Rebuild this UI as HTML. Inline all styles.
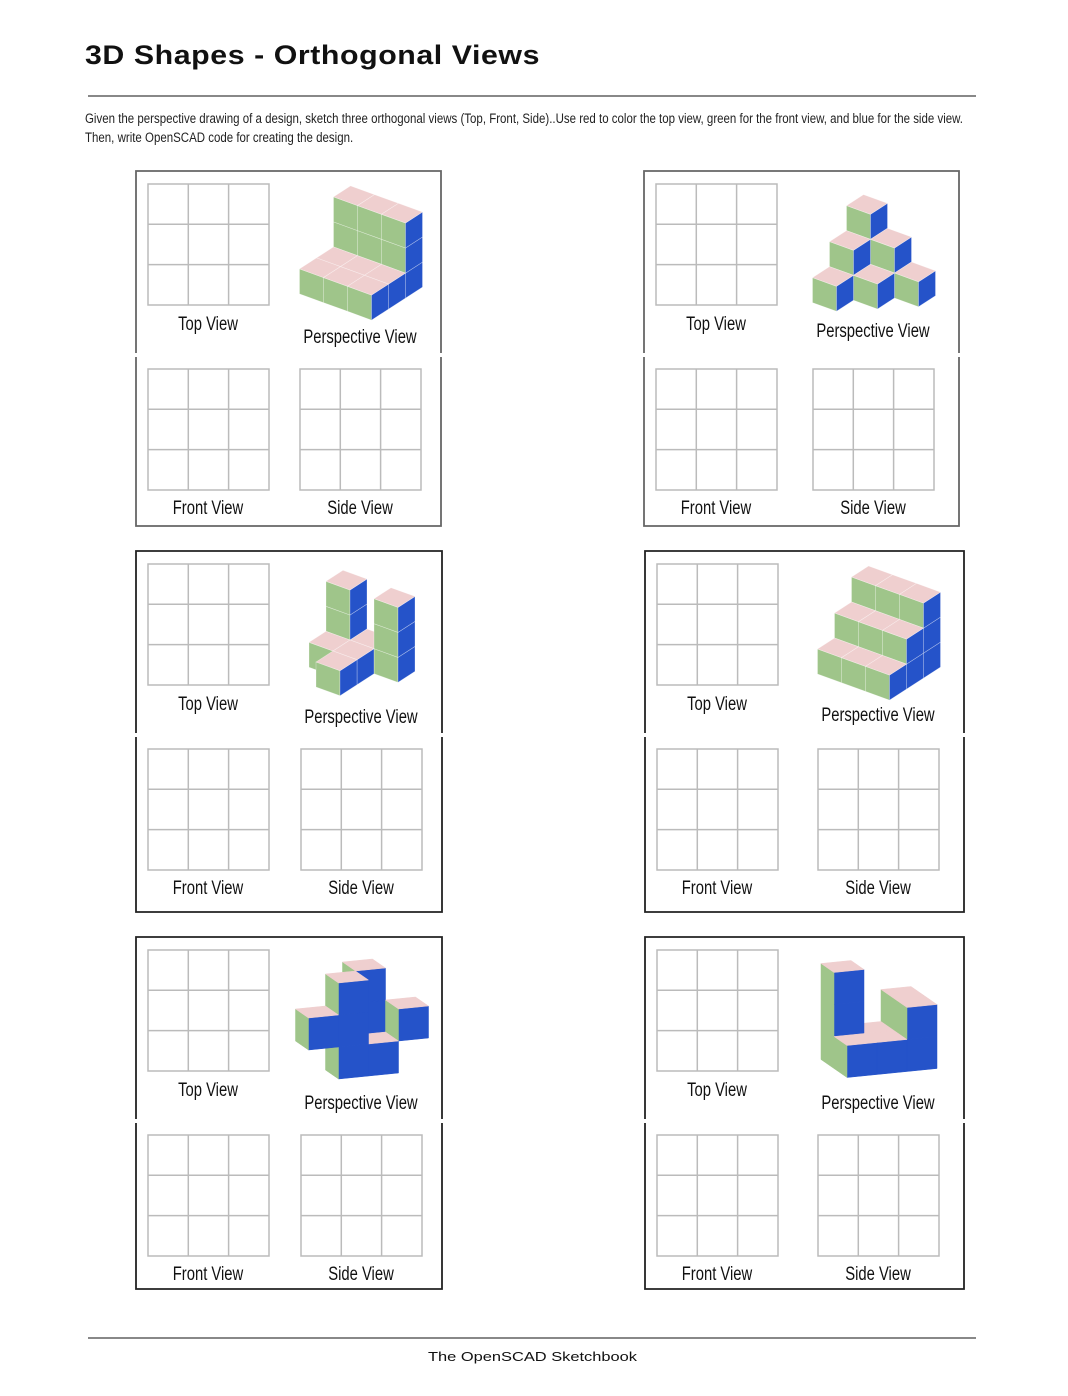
<!DOCTYPE html>
<html><head><meta charset="utf-8">
<style>
body{margin:0;background:#fff;width:1068px;height:1396px;position:relative;overflow:hidden;font-family:"Liberation Sans Narrow","Liberation Sans",sans-serif}
.title{position:absolute;left:85px;top:40px;font-family:"Liberation Sans",sans-serif;font-weight:bold;font-size:27px;letter-spacing:0.5px;color:#111;white-space:nowrap;transform-origin:left top}
.hr{position:absolute;height:2px;background:#888}
.desc{position:absolute;left:85px;top:109px;font-size:13.5px;line-height:19px;color:#222;transform-origin:left top;white-space:nowrap}
.footer{position:absolute;left:428px;top:1349px;font-family:"Liberation Sans",sans-serif;font-size:13px;color:#111;white-space:nowrap;transform-origin:left top}
</style></head><body>
<div class="title" id="title">3D Shapes - Orthogonal Views</div>
<div class="hr" style="left:88px;top:95px;width:888px"></div>
<div class="desc" id="desc">Given the perspective drawing of a design, sketch three orthogonal views (Top, Front, Side)..Use red to color the top view, green for the front view, and blue for the side view.<br>Then, write OpenSCAD code for creating the design.</div>
<svg id="sv" width="1068" height="1396" style="position:absolute;left:0;top:0"></svg>
<div class="hr" style="left:88px;top:1337px;width:888px;height:1.5px"></div>
<div class="footer" id="footer">The OpenSCAD Sketchbook</div>
<script>
function fitW(id,w){const e=document.getElementById(id);const r=e.getBoundingClientRect().width;e.style.transform='scaleX('+(w/r)+')';}
fitW('title',455);fitW('desc',878);fitW('footer',209);
const NS="http://www.w3.org/2000/svg";
const sv=document.getElementById('sv');
function mk(t,a,p){const e=document.createElementNS(NS,t);for(const k in a)e.setAttribute(k,a[k]);(p||sv).appendChild(e);return e;}
const panelBoxes=[[136,171,305,355],[644,171,315,355],[136,551,306,361],[645,551,319,361],[136,937,306,352],[645,937,319,352]];
function hm(rows){const v=[];rows.forEach((r,y)=>r.forEach((h,x)=>{for(let z=0;z<h;z++)v.push([x,y,z]);}));return v;}
const shape1=hm([[1,1,1],[1,1,1],[3,3,3]]);
const shape2=hm([[1,0,0],[2,1,0],[3,2,1]]);
const shape3=hm([[0,1,0],[1,1,0],[3,1,3]]);
const shape4=hm([[1,1,1],[2,2,2],[3,3,3]]);
const shape5=[[0,0,1],[1,0,0],[1,0,1],[1,0,2],[2,1,2],[2,1,1],[2,0,0],[3,0,1]];
const shape6=[[0,1,0],[0,1,1],[0,1,2],[0,0,0],[1,0,0],[1,1,0],[2,0,0],[2,0,1],[2,1,0],[2,1,1]];
const shapes=[shape1,shape2,shape3,shape4,shape5,shape6];
const views=['A','A','A','A','B','B'];
const PINK='#efcfcf',GREEN='#9fc58a',BLUE='#2553c9';
function drawShape(g,vox,view,cx,cy){
  const A=view==='A';
  const ex=A?[24,8.7]:[30,-3],ey=A?[17,-11]:[-13,-9],ez=A?[0,-25]:[0,-32];
  const P=(x,y,z)=>[x*ex[0]+y*ey[0]+z*ez[0],x*ex[1]+y*ey[1]+z*ez[1]];
  const has=(x,y,z)=>vox.some(v=>v[0]===x&&v[1]===y&&v[2]===z);
  const polys=[];
  const s=vox.slice().sort((a,b)=>(b[1]-a[1])||(A?(a[0]-b[0]):(b[0]-a[0]))||(a[2]-b[2]));
  s.forEach(([x,y,z])=>{
    if(!has(x,y-1,z))polys.push([[P(x,y,z),P(x+1,y,z),P(x+1,y,z+1),P(x,y,z+1)],A?GREEN:BLUE]);
    if(A&&!has(x+1,y,z))polys.push([[P(x+1,y,z),P(x+1,y+1,z),P(x+1,y+1,z+1),P(x+1,y,z+1)],BLUE]);
    if(!A&&!has(x-1,y,z))polys.push([[P(x,y,z),P(x,y+1,z),P(x,y+1,z+1),P(x,y,z+1)],GREEN]);
    if(!has(x,y,z+1))polys.push([[P(x,y,z+1),P(x+1,y,z+1),P(x+1,y+1,z+1),P(x,y+1,z+1)],PINK]);
  });
  let mnx=1e9,mxx=-1e9,mny=1e9,mxy=-1e9;
  polys.forEach(p=>p[0].forEach(q=>{mnx=Math.min(mnx,q[0]);mxx=Math.max(mxx,q[0]);mny=Math.min(mny,q[1]);mxy=Math.max(mxy,q[1]);}));
  const ox=cx-(mnx+mxx)/2,oy=cy-(mny+mxy)/2;
  polys.forEach(p=>{
    const f=mk('polygon',{points:p[0].map(q=>(q[0]+ox).toFixed(1)+','+(q[1]+oy).toFixed(1)).join(' '),fill:p[1],stroke:A?'rgba(255,255,255,0.45)':p[1],'stroke-width':A?0.6:0.5},g);
    
    
  });
}
function grid(g,x,y,name){
  const gg=mk('g',{},g);
  
  
  mk('rect',{x:x,y:y,width:121,height:121,fill:'#fff',stroke:'#bbb','stroke-width':1.5},gg);
  for(let i=1;i<3;i++){
    mk('line',{x1:x+i*40.3,y1:y,x2:x+i*40.3,y2:y+121,stroke:'#bbb','stroke-width':1.5},gg);
    mk('line',{x1:x,y1:y+i*40.3,x2:x+121,y2:y+i*40.3,stroke:'#bbb','stroke-width':1.5},gg);
  }
}
function label(g,x,y,t,name){
  const e=mk('text',{x:x,y:y,'text-anchor':'middle','font-size':19,fill:'#111','font-family':'"Liberation Sans Narrow","Liberation Sans",sans-serif',transform:`translate(${x},0) scale(0.78,1) translate(${-x},0)`},g);
  e.textContent=t;
  
  
}
panelBoxes.forEach((b,i)=>{
  const [px,py,w,h]=b;
  const g=mk('g',{});
  
  
  const mid=py+184;
  const col=i<2?'#666':'#222';
  mk('path',{d:`M${px},${mid-2} V${py} H${px+w} V${mid-2} M${px},${mid+2} V${py+h} H${px+w} V${mid+2}`,fill:'none',stroke:col,'stroke-width':1.8},g);
  const gx=px+12, sx=px+w-141+(i%2?-5:0);
  grid(g,gx,py+13,'top-view-grid');
  grid(g,gx,mid+14,'front-view-grid');
  grid(g,sx,mid+14,'side-view-grid');
  label(g,gx+60,py+159,'Top View','top-view-label');
  label(g,sx+60,py+172-(i===1?6:0)-(i===3?2:0),'Perspective View','perspective-view-label');
  label(g,gx+60,mid+159,'Front View','front-view-label');
  label(g,sx+60,mid+159,'Side View','side-view-label');
  const sg=mk('g',{},g);
  
  
  drawShape(sg,shapes[i],views[i],sx+61,py+82);
});
</script>
</body></html>
